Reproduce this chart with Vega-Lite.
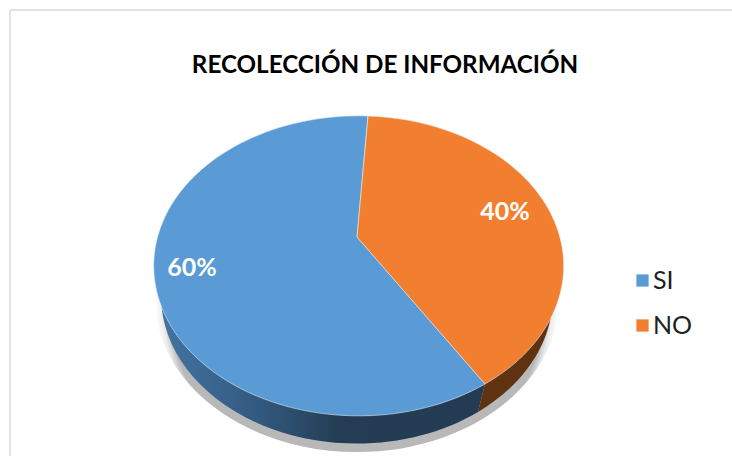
{
"$schema":"https://vega.github.io/schema/vega-lite/v6.json",
"width":722,"height":446,
"autosize":"none",
"padding":{"left":10,"top":10,"right":0,"bottom":0},
"background":"white",
"title":{"text":"RECOLECCIÓN DE INFORMACIÓN","anchor":"middle","dx":14,"dy":87,"offset":0,"baseline":"alphabetic","font":"Lato","fontSize":24.2,"fontWeight":"bold","color":"#000000"},
"view":{"stroke":"#d9d9d9","strokeWidth":1.5,"fill":"white","strokeDash":[722,1168,446,0]},
"data":{"values":[{"respuesta":"SI","porcentaje":0.6},{"respuesta":"NO","porcentaje":0.4}]},
"layer":[
{"transform":[{"filter":"datum.respuesta==='SI'"}],"mark":{"type":"point","filled":true,"size":4,"opacity":1,"fill":{"gradient":"radial","x1":0.5,"y1":0.5,"r1":0,"x2":0.5,"y2":0.5,"r2":0.5,"stops":[{"offset":0,"color":"rgba(0,0,0,0.28)"},{"offset":0.93,"color":"rgba(0,0,0,0.28)"},{"offset":0.965,"color":"rgba(0,0,0,0.08)"},{"offset":1,"color":"rgba(0,0,0,0)"}]},"shape":"M-216,66 A202,153 0 1,0 188,66 A202,153 0 1,0 -216,66 Z"},"encoding":{}},
{"transform":[{"filter":"datum.respuesta==='SI'"}],"mark":{"type":"point","filled":true,"size":4,"opacity":1,"fill":{"gradient":"linear","x1":0,"y1":0,"x2":1,"y2":0,"stops":[{"offset":0,"color":"#4474a3"},{"offset":0.3,"color":"#335a80"},{"offset":0.55,"color":"#243d55"},{"offset":1,"color":"#233c53"}]},"shape":"M114,151 L107,179 A196,148 0 0,1 -210,64 L-212,33 Z"},"encoding":{}},
{"transform":[{"filter":"datum.respuesta==='NO'"}],"mark":{"type":"point","filled":true,"size":4,"opacity":1,"fill":"#5f3210","shape":"M114,151 L107,179 A196,148 0 0,0 182,64 L185,33 Z"},"encoding":{}},
{"transform":[{"filter":"datum.respuesta==='SI'"}],"mark":{"type":"point","filled":true,"size":4,"opacity":1,"stroke":"#e4edf6","strokeWidth":0.6,"shape":"M-14,4 L114,151 A205,150 0 1,1 -3,-117 Z"},
 "encoding":{"color":{"field":"respuesta","type":"nominal","scale":{"domain":["SI","NO"],"range":["#5b9bd5","#f27f30"]},
   "legend":{"orient":"none","legendX":620,"legendY":258,"title":null,"symbolType":"square","symbolSize":150,"symbolStrokeWidth":0,"labelFont":"Lato","labelFontSize":25,"labelColor":"#1f1f1f","labelOffset":-2,"rowPadding":19,"labelLimit":120}}}},
{"transform":[{"filter":"datum.respuesta==='NO'"}],"mark":{"type":"point","filled":true,"size":4,"opacity":1,"stroke":"#e4edf6","strokeWidth":0.6,"shape":"M-14,4 L-3,-117 A205,150 0 0,1 114,151 Z"},
 "encoding":{"color":{"field":"respuesta","type":"nominal"}}},
{"transform":[{"filter":"datum.respuesta==='SI'"}],"mark":{"type":"text","dx":-179,"dy":35,"font":"Lato","fontWeight":"bold","fontSize":25,"color":"#ffffff"},"encoding":{"text":{"field":"porcentaje","type":"quantitative","format":".0%"}}},
{"transform":[{"filter":"datum.respuesta==='NO'"}],"mark":{"type":"text","dx":134,"dy":-21,"font":"Lato","fontWeight":"bold","fontSize":25,"color":"#ffffff"},"encoding":{"text":{"field":"porcentaje","type":"quantitative","format":".0%"}}}
]
}
